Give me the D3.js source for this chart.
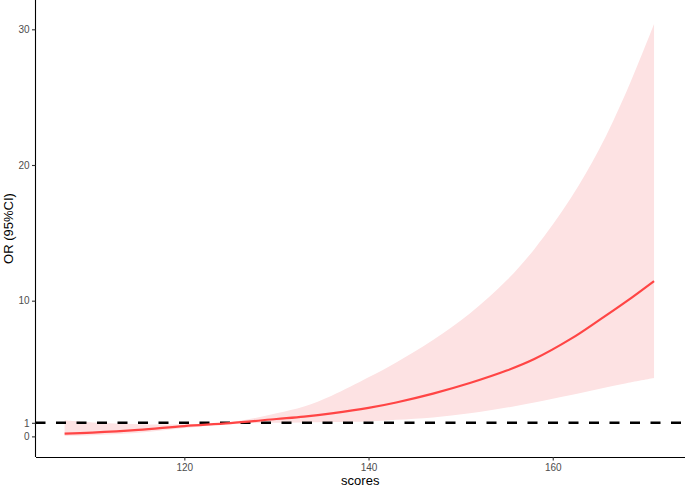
<!DOCTYPE html>
<html>
<head>
<meta charset="utf-8">
<script src="https://cdn.jsdelivr.net/npm/d3@7"></script>
<style>
  body { margin: 0; background: #fff; }
  svg { display: block; font-family: 'Liberation Sans', Arial, sans-serif; }
</style>
</head>
<body>
<svg id="chart" width="685" height="487"></svg>
<script>
// values
var scores = [107, 110, 115, 120, 125, 130, 133, 136, 140, 143, 147, 151, 155, 158, 162, 165, 168, 171];
var orEst = [0.20, 0.28, 0.48, 0.76, 0.98, 1.28, 1.46, 1.70, 2.10, 2.50, 3.15, 3.93, 4.85, 5.70, 7.20, 8.55, 9.95, 11.45];
var orUpper = [1.18, 1.02, 0.90, 0.90, 1.05, 1.70, 2.20, 3.00, 4.35, 5.45, 7.10, 9.05, 11.5, 13.8, 17.6, 21.1, 25.4, 30.4];
var orLower = [0.03, 0.08, 0.26, 0.62, 0.92, 1.00, 1.03, 1.06, 1.10, 1.22, 1.40, 1.70, 2.12, 2.50, 3.05, 3.50, 3.92, 4.30];
var xTicks = [120, 140, 160];
var yTicks = [0, 1, 10, 20, 30];
var refLine = 1;

function renderChart() {
  var svg = d3.select('#chart'),
    margin = { top: 0, right: 0, bottom: 30, left: 35.5 },
    width = +svg.attr('width') - margin.left - margin.right,
    height = +svg.attr('height') - margin.top - margin.bottom;

  var data = scores.map(function (s, i) {
    return { x: s, est: orEst[i], lo: orLower[i], hi: orUpper[i] };
  });

  var x = d3.scaleLinear().domain([103.84, 174.36]).range([0, width]);
  var y = d3.scaleLinear().domain([-1.52, 32.16]).range([height, 0]);

  var g = svg.append('g')
    .attr('transform', 'translate(' + margin.left + ',' + margin.top + ')');

  // confidence ribbon
  var area = d3.area()
    .x(function (d) { return x(d.x); })
    .y0(function (d) { return y(d.lo); })
    .y1(function (d) { return y(d.hi); })
    .curve(d3.curveCatmullRom);

  g.append('path')
    .datum(data)
    .attr('d', area)
    .attr('fill', '#fde2e3');

  // OR = 1 reference
  g.append('line')
    .attr('x1', 0)
    .attr('x2', width)
    .attr('y1', y(refLine))
    .attr('y2', y(refLine))
    .attr('stroke', '#000')
    .attr('stroke-width', 2.6)
    .attr('stroke-dasharray', '10,10.5');

  var line = d3.line()
    .x(function (d) { return x(d.x); })
    .y(function (d) { return y(d.est); })
    .curve(d3.curveCatmullRom);

  g.append('path')
    .datum(data)
    .attr('d', line)
    .attr('fill', 'none')
    .attr('stroke', '#ff4545')
    .attr('stroke-width', 2.2);

  // axes
  var xAxis = g.append('g')
    .attr('transform', 'translate(0,' + height + ')')
    .call(d3.axisBottom(x).tickValues(xTicks).tickSize(3.5).tickPadding(3).tickSizeOuter(0));

  var yAxis = g.append('g')
    .call(d3.axisLeft(y).tickValues(yTicks).tickSize(3.5).tickPadding(2.5).tickSizeOuter(0));

  [xAxis, yAxis].forEach(function (ax) {
    ax.select('.domain').attr('stroke', '#000').attr('stroke-width', 1.1);
    ax.selectAll('.tick line').attr('stroke', '#333').attr('stroke-width', 1.1);
    ax.selectAll('.tick text')
      .attr('fill', '#4d4d4d')
      .style('font-size', '10px')
      .style('font-family', "'Liberation Sans', Arial, sans-serif");
  });
  // y axis line runs to the top of the panel
  yAxis.select('.domain').attr('d', 'M0,' + height + 'V0');

  // axis titles
  svg.append('text')
    .attr('x', margin.left + width / 2)
    .attr('y', 484.5)
    .attr('text-anchor', 'middle')
    .style('font-size', '13px')
    .attr('fill', '#000')
    .text('scores');

  svg.append('text')
    .attr('transform', 'translate(12.5,' + (margin.top + height / 2) + ') rotate(-90)')
    .attr('text-anchor', 'middle')
    .style('font-size', '13px')
    .attr('fill', '#000')
    .text('OR (95%CI)');
}

renderChart();
</script>
</body>
</html>
